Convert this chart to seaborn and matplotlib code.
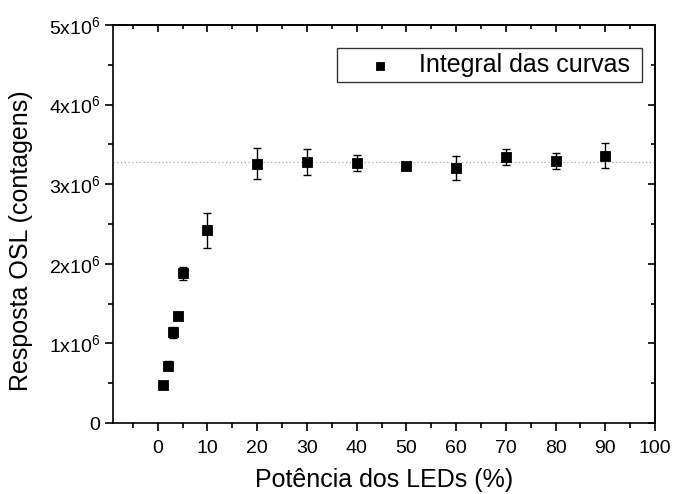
import numpy as np
import pandas as pd
import matplotlib
matplotlib.use('Agg')
import matplotlib.pyplot as plt
import seaborn as sns
from matplotlib.ticker import MultipleLocator, FuncFormatter, NullFormatter

# LED power (%) vs OSL response
potencia = [1, 2, 3, 4, 5, 10, 20, 30, 40, 50, 60, 70, 80, 90]
resposta = [0.48e6, 0.72e6, 1.14e6, 1.35e6, 1.88e6, 2.42e6, 3.26e6, 3.28e6,
            3.27e6, 3.23e6, 3.20e6, 3.34e6, 3.29e6, 3.36e6]
erro = [0.02e6, 0.06e6, 0.07e6, 0.03e6, 0.085e6, 0.22e6, 0.195e6, 0.16e6,
        0.10e6, 0.02e6, 0.15e6, 0.10e6, 0.10e6, 0.155e6]
media = 3.28e6

df = pd.DataFrame({'Potência dos LEDs (%)': potencia,
                   'Resposta OSL (contagens)': resposta,
                   'erro': erro})

sns.set_style('ticks')
plt.rcParams['font.family'] = ['Liberation Sans', 'DejaVu Sans']
plt.rcParams['mathtext.fontset'] = 'custom'
plt.rcParams['mathtext.rm'] = 'Liberation Sans'
for k in ['text.color', 'axes.labelcolor', 'xtick.color', 'ytick.color',
          'axes.edgecolor']:
    plt.rcParams[k] = 'black'

fig = plt.figure(figsize=(6.75, 4.94), dpi=100)
ax = fig.add_axes([0.1674, 0.1437, 0.8030, 0.8057])

ax.axhline(media, color='#aaaaaa', ls=(0, (1, 2)), lw=0.9, zorder=1)
ax.errorbar(df['Potência dos LEDs (%)'], df['Resposta OSL (contagens)'],
            yerr=df['erro'], fmt='none', ecolor='black', elinewidth=1,
            capsize=3, capthick=1, zorder=2)
sns.scatterplot(data=df, x='Potência dos LEDs (%)', y='Resposta OSL (contagens)',
                marker='s', s=55, color='black', edgecolor='black',
                label='Integral das curvas ', ax=ax, zorder=3)

ax.set_xlim(-9, 100)
ax.set_ylim(0, 5e6)
ax.xaxis.set_major_locator(MultipleLocator(10))
ax.xaxis.set_minor_locator(MultipleLocator(5))
ax.yaxis.set_major_locator(MultipleLocator(1e6))
ax.yaxis.set_minor_locator(MultipleLocator(0.5e6))


def fmt_y(v, pos):
    if v == 0:
        return '0'
    return r'$\mathregular{%dx10^6}$' % round(v / 1e6)


ax.yaxis.set_major_formatter(FuncFormatter(fmt_y))

for side in ['top', 'right', 'left', 'bottom']:
    ax.spines[side].set_visible(True)
    ax.spines[side].set_linewidth(1.2)

# outward ticks on left/bottom
ax.tick_params(which='major', direction='out', length=6, width=1.2,
               labelsize=14, pad=3)
ax.tick_params(axis='x', which='major', pad=6)
ax.tick_params(which='minor', direction='out', length=3.5, width=1.2)

# inward ticks on top/right
top = ax.secondary_xaxis('top')
top.xaxis.set_major_locator(MultipleLocator(10))
top.xaxis.set_minor_locator(MultipleLocator(5))
top.xaxis.set_major_formatter(NullFormatter())
top.tick_params(which='major', direction='in', length=5, width=1.2)
top.tick_params(which='minor', direction='in', length=3, width=1.2)
top.spines['top'].set_linewidth(1.2)

right = ax.secondary_yaxis('right')
right.yaxis.set_major_locator(MultipleLocator(1e6))
right.yaxis.set_minor_locator(MultipleLocator(0.5e6))
right.yaxis.set_major_formatter(NullFormatter())
right.tick_params(which='major', direction='in', length=5, width=1.2)
right.tick_params(which='minor', direction='in', length=3, width=1.2)
right.spines['right'].set_linewidth(1.2)

ax.set_xlabel('Potência dos LEDs (%)', fontsize=18)
ax.set_ylabel('Resposta OSL (contagens)', fontsize=18)
ax.xaxis.set_label_coords(0.5, -0.113)
ax.yaxis.set_label_coords(-0.148, 0.457)

leg = ax.legend(loc='upper right', bbox_to_anchor=(0.976, 0.942), fontsize=18,
                frameon=True, fancybox=False, edgecolor='black',
                borderpad=0.2, handlelength=3.1, handletextpad=0.0,
                markerscale=0.8, borderaxespad=0)
leg.get_frame().set_linewidth(1.0)

fig.savefig('out.png', dpi=100)
